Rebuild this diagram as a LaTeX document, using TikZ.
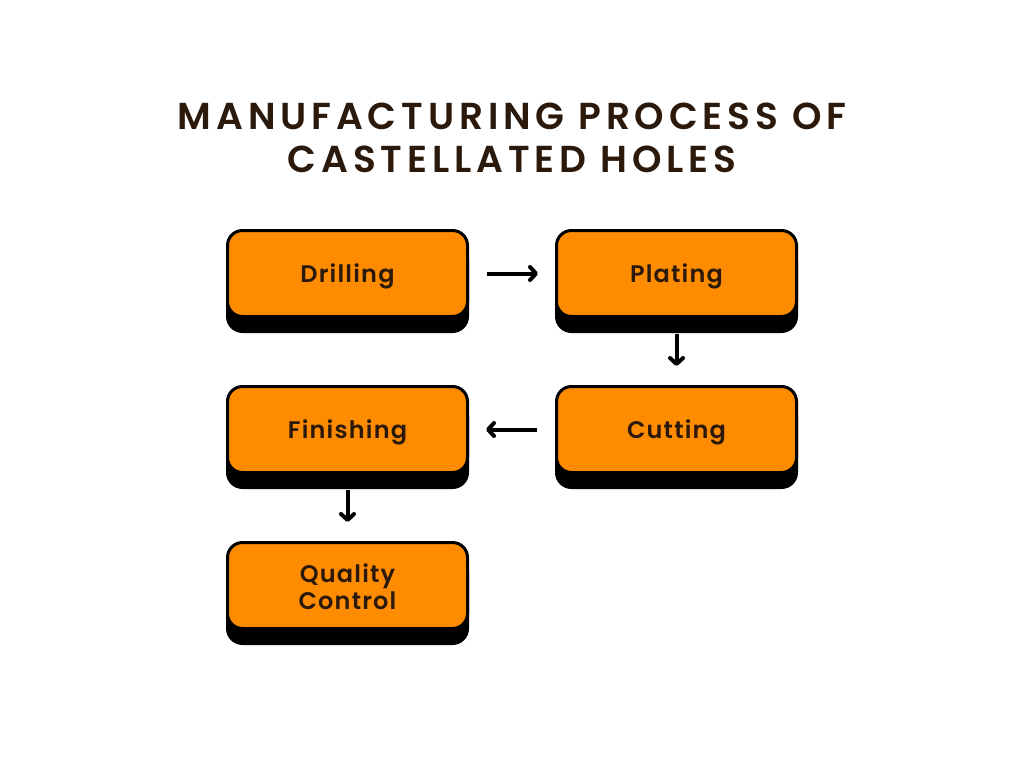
\documentclass[tikz,border=0pt]{standalone}
\usepackage{fontspec}
\setmainfont{Poppins}
\newfontfamily\semifont{Poppins SemiBold}
\usetikzlibrary{arrows.meta}
\definecolor{boxorange}{HTML}{FF8C00}
\definecolor{txtbrown}{HTML}{2B1A0C}
\tikzset{
  stepbox/.style={draw=black, line width=3pt, fill=boxorange, rounded corners=15pt,
    minimum width=240pt, minimum height=86pt,
    preaction={draw=black, fill=black, transform canvas={yshift=-15pt}}},
  steptext/.style={align=center, text=txtbrown, yshift=-3pt,
    font=\fontsize{24}{27}\selectfont\semifont\addfontfeatures{LetterSpace=5}},
  flow/.style={line width=4pt, -{Straight Barb[length=6pt,width=13pt,line cap=round,line join=round]}}
}
\begin{document}
\begin{tikzpicture}[x=1pt,y=-1pt]
\useasboundingbox[fill=white] (0,0) rectangle (1024,768);
\node[text=txtbrown, align=center, font=\fontsize{37.5}{43}\selectfont\semifont\addfontfeatures{LetterSpace=13}] (title) at (512,138) {MANUFACTURING PROCESS OF\\CASTELLATED HOLES};
\node[stepbox] (drill) at (347.5,273.5) {};
\node[stepbox] (plate) at (676.5,273.5) {};
\node[stepbox] (cut) at (676.5,429.5) {};
\node[stepbox] (finish) at (347.5,429.5) {};
\node[stepbox] (qc) at (347.5,585.5) {};
\node[steptext] (drillT) at (drill) {Drilling};
\node[steptext] (plateT) at (plate) {Plating};
\node[steptext] (cutT) at (cut) {Cutting};
\node[steptext] (finishT) at (finish) {Finishing};
\node[steptext, yshift=2pt] (qcT) at (qc) {Quality\\Control};
\draw[flow, shorten <=18pt, shorten >=17pt] (drill.east) -- (plate.west);
\draw[flow, shorten <=16pt, shorten >=19pt] (plate.south) -- (cut.north);
\draw[flow, shorten <=18pt, shorten >=17pt] (cut.west) -- (finish.east);
\draw[flow, shorten <=16pt, shorten >=19pt] (finish.south) -- (qc.north);
\end{tikzpicture}
\end{document}
